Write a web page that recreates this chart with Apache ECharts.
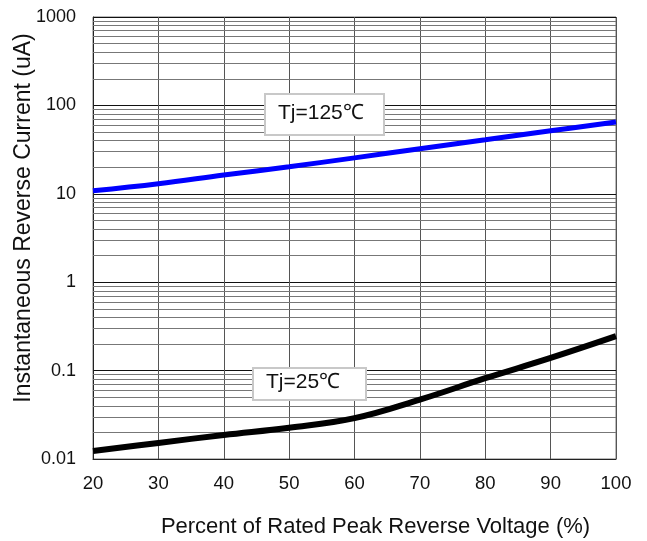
<!DOCTYPE html>
<html><head><meta charset="utf-8">
<script src="https://cdn.jsdelivr.net/npm/echarts@6/dist/echarts.min.js"></script>
<style>html,body{margin:0;padding:0;background:#fff}#c{width:647px;height:541px}</style>
</head><body><div id="c"></div>
<script>
var xValues = [20, 30, 40, 50, 60, 70, 80, 90, 100];
var current125 = [10.8, 13.0, 16.3, 20.2, 25.5, 32.3, 40.8, 51.6, 65];
var current25 = [0.0123, 0.0152, 0.0187, 0.0226, 0.029, 0.047, 0.082, 0.139, 0.245];
var yTickLabels = ['0.01', '0.1', '1', '10', '100', '1000'];
var minorGridValues = [];
[0.01, 0.1, 1, 10, 100].forEach(function (d) { for (var k = 2; k <= 9; k++) minorGridValues.push(d * k); });
var label125 = 'Tj=125℃';
var label25 = 'Tj=25℃';

var chart = echarts.init(document.getElementById('c'), null, {renderer: 'canvas'});
var font = 'Liberation Sans, Arial, sans-serif';
chart.setOption({
  animation: false,
  backgroundColor: '#fff',
  grid: {left: 93, right: 31, top: 17, bottom: 82, containLabel: false, outerBoundsMode: 'none',
    show: true, borderColor: '#777', borderWidth: 1},
  xAxis: {
    type: 'value', min: 20, max: 100, interval: 10,
    name: 'Percent of Rated Peak Reverse Voltage (%)', nameLocation: 'middle', nameGap: 57,
    nameMoveOverlap: false,
    nameTextStyle: {fontFamily: font, fontSize: 22, color: '#111', padding: [0, 0, 0, 42]},
    axisLine: {show: true, lineStyle: {color: '#222'}},
    axisTick: {show: false},
    axisLabel: {fontFamily: font, fontSize: 18.5, color: '#111', margin: 15},
    splitLine: {show: true, lineStyle: {color: '#555', width: 1}}
  },
  yAxis: {
    type: 'log', logBase: 10, min: 0.01, max: 1000,
    name: 'Instantaneous Reverse Current (uA)', nameLocation: 'middle', nameGap: 58,
    nameMoveOverlap: false,
    nameTextStyle: {fontFamily: font, fontSize: 23, color: '#111', padding: [0, 0, 0, 40]},
    axisLine: {show: true, lineStyle: {color: '#222'}},
    axisTick: {show: false},
    axisLabel: {fontFamily: font, fontSize: 18, color: '#111', margin: 17,
      formatter: function (v) { var i = Math.round(Math.log10(v)) + 2; return yTickLabels[i] || ''; }},
    splitLine: {show: true, lineStyle: {color: '#111', width: 1}}
  },
  series: [
    {
      type: 'line', data: [], silent: true,
      markLine: {silent: true, symbol: 'none', label: {show: false},
        lineStyle: {color: '#777', width: 1, type: 'solid'},
        data: minorGridValues.map(function (v) { return {yAxis: v}; })}
    },
    {
      type: 'line', smooth: 0.4, showSymbol: false, z: 5,
      data: xValues.map(function (x, i) { return [x, current125[i]]; }),
      lineStyle: {color: '#0000ff', width: 5}
    },
    {
      type: 'line', smooth: 0.4, showSymbol: false, z: 5,
      data: xValues.map(function (x, i) { return [x, current25[i]]; }),
      lineStyle: {color: '#000', width: 6}
    }
  ],
  graphic: [
    {type: 'rect', left: 264, top: 93, shape: {width: 119, height: 41}, style: {fill: '#fff', stroke: '#c8c8c8', lineWidth: 2}, z: 10},
    {type: 'text', left: 278, top: 103, style: {text: label125, font: '21px Liberation Sans, Arial, sans-serif', fill: '#111'}, z: 11},
    {type: 'rect', left: 252, top: 367, shape: {width: 113, height: 32}, style: {fill: '#fff', stroke: '#c8c8c8', lineWidth: 2}, z: 10},
    {type: 'text', left: 266, top: 372, style: {text: label25, font: '21px Liberation Sans, Arial, sans-serif', fill: '#111'}, z: 11}
  ]
});
</script></body></html>
